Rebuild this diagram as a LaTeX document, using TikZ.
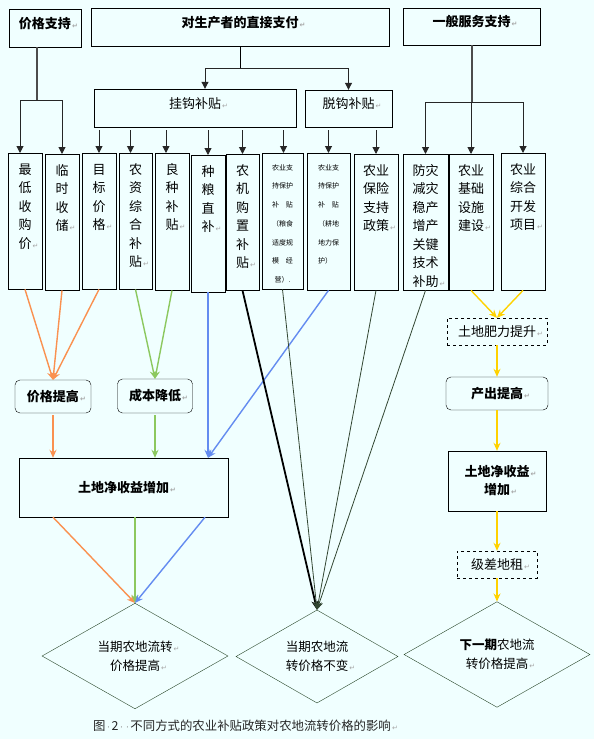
\documentclass[tikz,border=0pt]{standalone}
\usepackage{fontspec}
\setmainfont{Noto Sans CJK SC}
\newfontfamily\markfont{DejaVu Sans}
\usetikzlibrary{arrows.meta,shapes.geometric}
\definecolor{bgcol}{RGB}{240,255,255}
\definecolor{orcol}{RGB}{250,145,80}
\definecolor{grcol}{RGB}{140,200,95}
\definecolor{blcol}{RGB}{100,140,240}
\definecolor{yecol}{RGB}{255,210,0}
\definecolor{linecol}{RGB}{50,70,50}
\definecolor{dmcol}{RGB}{40,70,40}
\newcommand\retmark{\rlap{\textcolor{black!35}{\markfont\fontsize{7}{7}\selectfont\,↵}}}
\newcommand\spdot{\makebox[6pt]{\textcolor{black!45}{\markfont\fontsize{9}{9}\selectfont·}}}
\newcommand\colbody[3]{\parbox[c][#2][t]{#1}{\centering\rule{0pt}{21pt}#3}}
\newcommand\smbody[3]{\parbox[c][#2][t]{#1}{\centering\rule{0pt}{17pt}#3}}
\newcommand\spreadtxt[1]{\makebox[21pt][s]{#1}}
\newcommand\lift[1]{\raisebox{4.5pt}[\height][\depth]{#1}}

\begin{document}
\begin{tikzpicture}[x=1pt,y=-1pt,
box/.style={draw,inner sep=0,font=\fontsize{13}{18}\selectfont},
bbox/.style={box,font=\fontsize{13}{18}\selectfont\bfseries},
rbox/.style={bbox,rounded corners=5pt},
dbox/.style={box,dashed},
colbox/.style={draw,inner sep=0,anchor=north,font=\fontsize{13}{18.5}\selectfont},
smbox/.style={draw,inner sep=0,anchor=north,font=\fontsize{7}{18.7}\selectfont},
dm/.style={draw=dmcol,diamond,inner sep=0,align=center,font=\fontsize{12.5}{19}\selectfont},
arr/.style={-{Triangle[length=7pt,width=7pt]},black!85,line width=1pt},
trunk/.style={black!70,line width=1.8pt},
carr/.style={-{Stealth[length=8pt,width=7pt]},line width=1.4pt},
thinarr/.style={-{Stealth[length=8pt,width=7pt]},line width=0.8pt,draw=linecol}]
\useasboundingbox[fill=bgcol] (0,0) rectangle (594,739);

\node[bbox,minimum width=72,minimum height=38] (jgzc) at (45,28) {\lift{价格支持\retmark}};
\node[bbox,minimum width=298,minimum height=38] (zjzf) at (240,27) {\lift{对生产者的直接支付\retmark}};
\node[bbox,minimum width=137,minimum height=37] (ybfw) at (471.5,26.5) {\lift{一般服务支持\retmark}};
\node[box,minimum width=202,minimum height=38] (ggbt) at (195,108) {\lift{挂钩补贴\retmark}};
\node[box,minimum width=87,minimum height=37] (tgbt) at (348.5,108.5) {\lift{脱钩补贴\retmark}};

\node[colbox] (zdsgj) at (25,153) {\colbody{34pt}{136pt}{最\\低\\收\\购\\价\retmark}};
\node[colbox] (lscc) at (62,154) {\colbody{34pt}{136pt}{临\\时\\收\\储\retmark}};
\node[colbox] (mbjg) at (99,153) {\colbody{34pt}{136pt}{目\\标\\价\\格\retmark}};
\node[colbox] (nzzh) at (135.5,153) {\colbody{33pt}{136pt}{农\\资\\综\\合\\补\\贴\retmark}};
\node[colbox] (lzbt) at (172,153) {\colbody{34pt}{137pt}{良\\种\\补\\贴\retmark}};
\node[colbox] (zlzb) at (208,155) {\colbody{34pt}{137pt}{种\\粮\\直\\补\retmark}};
\node[colbox] (njgz) at (242.5,154) {\colbody{33pt}{136pt}{农\\机\\购\\置\\补\\贴\retmark}};
\node[smbox] (zbbtA) at (282.5,153) {\smbody{41pt}{136pt}{农业支\\持保护\\\spreadtxt{补\hfill 贴}\\（粮食\\适度规\\\spreadtxt{模\hfill 经}\\营）.}};
\node[smbox] (zbbtB) at (328.5,153) {\smbody{43pt}{137pt}{农业支\\持保护\\\spreadtxt{补\hfill 贴}\\（耕地\\地力保\\护）\hphantom{地}}};
\node[colbox] (nybx) at (376,154) {\colbody{44pt}{136pt}{农业\\保险\\支持\\政策\retmark}};
\node[colbox] (fzjz) at (425.5,154) {\colbody{45pt}{136pt}{防灾\\减灾\\稳产\\增产\\关键\\技术\\补助\retmark}};
\node[colbox] (jcss) at (471,154) {\colbody{44pt}{136pt}{农业\\基础\\设施\\建设\retmark}};
\node[colbox] (zhkf) at (523,153) {\colbody{44pt}{137pt}{农业\\综合\\开发\\项目\retmark}};

\node[rbox,minimum width=76,minimum height=33] (jgtg) at (53,396.5) {价格提高\retmark};
\node[rbox,minimum width=75,minimum height=34] (cbjd) at (155,396) {成本降低\retmark};
\node[bbox,minimum width=209,minimum height=59] (syzjL) at (123.5,487.5) {土地净收益增加\retmark};
\node[dbox,minimum width=100,minimum height=27] (flts) at (497,331.5) {土地肥力提升\retmark};
\node[rbox,minimum width=102,minimum height=33] (cctg) at (497,393.5) {产出提高\retmark};
\node[bbox,align=center,minimum width=98,minimum height=60] (syzjR) at (497,481) {土地净收益\retmark\\增加\retmark};
\node[dbox,minimum width=80,minimum height=27] (jcdz) at (497,564.5) {级差地租\retmark};

\node[dm,minimum width=186,minimum height=92] (dmA) at (135,656) {当期农地流转\retmark\\价格提高\retmark};
\node[dm,minimum width=162,minimum height=91] (dmB) at (317,656.5) {当期农地流\\转价格不变\retmark};
\node[dm,minimum width=186,minimum height=93] (dmC) at (497,654.5) {\textbf{下一期}农地流\\转价格提高\retmark};

\node[anchor=west,inner sep=0,font=\fontsize{12.4}{14}\selectfont,text=black!85] (title) at (93,726)
  {图\spdot 2\spdot\spdot 不同方式的农业补贴政策对农地流转价格的影响\retmark};

\coordinate (pj) at (37,100);
\coordinate (zj) at (240,68);
\coordinate (yj) at (472,102);
\draw[trunk] (jgzc.south -| pj) -- (pj);
\draw[arr] (pj) -| ([xshift=-5pt]zdsgj.north);
\draw[arr] (pj) -| (lscc.north);
\draw[black,line width=1pt] (zjzf) -- (zj);
\draw[arr] (zj) -| ([xshift=10pt]ggbt.north);
\draw[arr] (zj) -| (tgbt.north);
\draw[trunk] (ybfw.south -| yj) -- (yj);
\foreach \t in {fzjz,jcss,zhkf}
  \draw[arr] (yj) -| (\t.north);
\foreach \t/\d in {mbjg/0,nzzh/-5,lzbt/-6,zlzb/0,njgz/0,zbbtA/1}
  \draw[arr,shorten <=3pt] ([xshift=\d pt]\t.north |- ggbt.south) -- ([xshift=\d pt]\t.north);
\foreach \t in {zbbtB,nybx}
  \draw[arr,shorten <=3pt] (\t.north |- tgbt.south) -- (\t.north);

\foreach \s in {zdsgj,lscc,mbjg}
  \draw[carr,orcol] (\s.south) -- (jgtg.north);
\foreach \s in {nzzh,lzbt}
  \draw[carr,grcol] (\s.south) -- (cbjd.north);
\draw[carr,blcol] (zlzb.south) -- (zlzb.south |- syzjL.north);
\draw[carr,blcol] (zbbtB.south) -- (zlzb.south |- syzjL.north);
\draw[carr,orcol,shorten <=2pt] (jgtg.south) -- (jgtg.south |- syzjL.north);
\draw[carr,grcol,shorten <=2pt] (cbjd.south) -- (cbjd.south |- syzjL.north);
\draw[-{Stealth[length=9pt,width=7pt]},line width=1.8pt] (njgz.south) -- (dmB.north);
\foreach \s in {zbbtA,nybx,fzjz}
  \draw[thinarr] (\s.south) -- (dmB.north);
\draw[carr,orcol] (syzjL.south -| jgtg.south) -- (dmA.north);
\draw[carr,grcol] (syzjL.south -| dmA.north) -- (dmA.north);
\draw[carr,blcol] ([xshift=-3pt]syzjL.south -| zlzb.south) -- (dmA.north);

\foreach \s in {jcss,zhkf}
  \draw[carr,yecol] (\s.south) -- (flts.north);
\draw[carr,yecol] (flts.south) -- (cctg.north);
\draw[carr,yecol] (cctg.south) -- (syzjR.north);
\draw[carr,yecol] (syzjR.south) -- (jcdz.north);
\draw[carr,yecol] (jcdz.south) -- (dmC.north);
\end{tikzpicture}
\end{document}
